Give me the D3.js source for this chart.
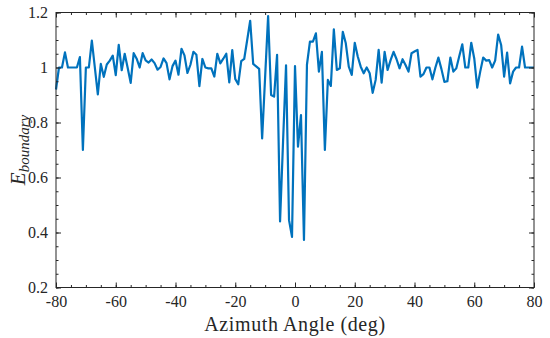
<!DOCTYPE html>
<html>
<head>
<meta charset="utf-8">
<script src="https://cdn.jsdelivr.net/npm/d3@7"></script>
<style>
  body { margin: 0; background: #fff; }
  svg text { font-family: "Liberation Serif", "DejaVu Serif", serif; fill: #262626; }
</style>
</head>
<body>
<svg id="chart" width="550" height="338"></svg>
<script>
// Boundary error vs azimuth angle, one sample per degree
const angles = d3.range(-80, 81, 1);
const eBoundary = [
  0.92, 1.0, 1.0, 1.055, 1.0, 1.0, 1.0, 1.0, 1.038, 0.70,
  1.0, 1.0, 1.098, 1.0, 0.902, 1.013, 0.966, 1.011, 1.025, 1.043,
  0.972, 1.082, 0.99, 1.05, 0.998, 0.944, 1.052, 1.032, 1.0, 1.052,
  1.026, 1.018, 1.029, 1.016, 0.992, 1.002, 1.033, 1.016, 0.957, 1.005,
  1.025, 0.974, 1.068, 1.044, 0.98, 1.01, 1.057, 1.046, 0.932, 1.031,
  1.0, 0.997, 0.997, 0.967, 1.05, 1.015, 1.032, 1.05, 0.946, 1.063,
  0.958, 0.939, 1.023, 1.031, 1.1, 1.17, 1.013, 1.004, 0.995, 0.742,
  0.965, 1.187, 0.9, 0.894, 1.046, 0.44, 0.73, 1.008, 0.445, 0.384,
  1.005, 0.712, 0.827, 0.373, 1.01, 1.094, 1.094, 1.124, 0.985, 1.057,
  0.7, 0.955, 0.933, 1.139, 0.991, 0.997, 1.13, 1.088, 1.003, 0.973,
  1.09, 1.04, 1.003, 0.979, 1.0, 0.979, 0.908, 0.955, 1.064, 0.945,
  1.057, 0.991, 1.027, 1.057, 1.03, 0.997, 1.03, 1.009, 0.985, 1.052,
  1.058, 1.064, 0.967, 0.976, 1.0, 1.0, 0.957, 1.0, 1.036, 0.995,
  0.948, 0.95, 1.036, 0.985, 0.997, 1.042, 1.084, 1.0, 1.0, 1.09,
  1.033, 0.927, 0.985, 1.036, 1.025, 1.027, 1.0, 1.025, 1.12, 1.082,
  0.967, 1.054, 0.942, 0.985, 1.0, 1.0, 1.076, 1.0, 1.0, 1.0,
  1.0
];
const xTicks = [-80, -60, -40, -20, 0, 20, 40, 60, 80];
const yTicks = [0.2, 0.4, 0.6, 0.8, 1, 1.2];
const yTickLabels = ["0.2", "0.4", "0.6", "0.8", "1", "1.2"];

(function() {
  const svg = d3.select("#chart");
  const margin = { top: 12.5, right: 16, bottom: 50.5, left: 56 };
  const width = +svg.attr("width"), height = +svg.attr("height");
  const innerW = width - margin.left - margin.right;
  const innerH = height - margin.top - margin.bottom;
  const axisColor = "#262626";

  const x = d3.scaleLinear().domain([-80, 80]).range([0, innerW]);
  const y = d3.scaleLinear().domain([0.2, 1.2]).range([innerH, 0]);

  const g = svg.append("g").attr("transform", `translate(${margin.left},${margin.top})`);

  const data = angles.map((a, i) => ({ a, v: eBoundary[i] }));

  // Line
  g.append("path")
    .datum(data)
    .attr("fill", "none")
    .attr("stroke", "#0072BD")
    .attr("stroke-width", 2.2)
    .attr("stroke-linejoin", "round")
    .attr("d", d3.line().x(d => x(d.a)).y(d => y(d.v)));

  // Box
  g.append("rect")
    .attr("width", innerW).attr("height", innerH)
    .attr("fill", "none").attr("stroke", axisColor).attr("stroke-width", 1);

  // Ticks pointing inward on all four sides
  const xMinor = d3.range(-80, 81, 5);
  const yMinor = d3.range(0.2, 1.2001, 0.05);
  function styleAxis(sel) {
    sel.select(".domain").remove();
    sel.selectAll("line").attr("stroke", axisColor);
    sel.selectAll("text").attr("font-size", 16);
  }
  g.append("g").attr("transform", `translate(0,${innerH})`)
    .call(d3.axisBottom(x).tickValues(xMinor).tickSize(-2.5).tickFormat(""))
    .call(styleAxis);
  g.append("g")
    .call(d3.axisTop(x).tickValues(xMinor).tickSize(-2.5).tickFormat(""))
    .call(styleAxis);
  g.append("g").attr("transform", `translate(0,${innerH})`)
    .call(d3.axisBottom(x).tickValues(xTicks).tickSize(-5).tickPadding(8).tickFormat(d => String(d)))
    .call(styleAxis);
  g.append("g")
    .call(d3.axisTop(x).tickValues(xTicks).tickSize(-5).tickFormat(""))
    .call(styleAxis);
  g.append("g")
    .call(d3.axisLeft(y).tickValues(yMinor).tickSize(-2.5).tickFormat(""))
    .call(styleAxis);
  g.append("g").attr("transform", `translate(${innerW},0)`)
    .call(d3.axisRight(y).tickValues(yMinor).tickSize(-2.5).tickFormat(""))
    .call(styleAxis);
  g.append("g")
    .call(d3.axisLeft(y).tickValues(yTicks).tickSize(-5).tickPadding(8).tickFormat((d, i) => yTickLabels[i]))
    .call(styleAxis);
  g.append("g").attr("transform", `translate(${innerW},0)`)
    .call(d3.axisRight(y).tickValues(yTicks).tickSize(-5).tickFormat(""))
    .call(styleAxis);

  // Axis labels
  svg.append("text")
    .attr("x", margin.left + innerW / 2)
    .attr("y", 331)
    .attr("text-anchor", "middle")
    .attr("font-size", 20)
    .attr("letter-spacing", 0.6)
    .text("Azimuth Angle (deg)");

  const yl = svg.append("text")
    .attr("transform", `translate(25,${margin.top + innerH / 2}) rotate(-90)`)
    .attr("text-anchor", "middle")
    .attr("font-style", "italic");
  yl.append("tspan").attr("font-size", 21).text("E");
  yl.append("tspan").attr("font-size", 15).attr("dy", 4).text("boundary");
})();
</script>
</body>
</html>
